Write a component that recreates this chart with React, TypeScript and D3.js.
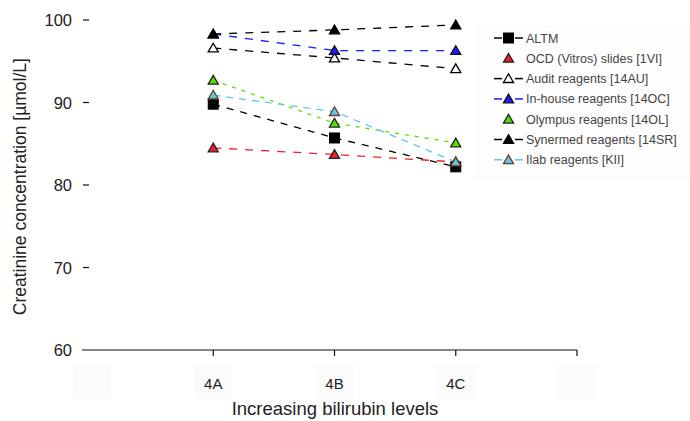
import React from "react";
import * as d3 from "d3";

// Category positions along the x axis (blank slots at both ends)
const categories = ["", "4A", "4B", "4C", ""];
const yTicks = [60, 70, 80, 90, 100];

// Creatinine results per method at each bilirubin level (µmol/L)
const altm = [89.8, 85.7, 82.2];
const ocd = [84.5, 83.7, 82.8];
const audit = [96.6, 95.4, 94.1];
const inHouse = [98.3, 96.3, 96.3];
const olympus = [92.7, 87.5, 85.1];
const synermed = [98.3, 98.8, 99.4];
const ilab = [90.9, 88.9, 82.8];

type Series = {
  name: string;
  values: number[];
  color: string;
  marker: "square" | "triangle" | "openTriangle";
  stroke: string;
  dash: string;
  legendLine: boolean;
};

const series: Series[] = [
  { name: "ALTM", values: altm, color: "#000", marker: "square", stroke: "#000", dash: "7,7", legendLine: true },
  { name: "OCD (Vitros) slides [1VI]", values: ocd, color: "#e8202a", marker: "triangle", stroke: "#222", dash: "8,8", legendLine: false },
  { name: "Audit reagents [14AU]", values: audit, color: "#fff", marker: "openTriangle", stroke: "#000", dash: "8,8", legendLine: true },
  { name: "In-house reagents [14OC]", values: inHouse, color: "#1a1aff", marker: "triangle", stroke: "#111", dash: "8,8", legendLine: true },
  { name: "Olympus reagents [14OL]", values: olympus, color: "#55e000", marker: "triangle", stroke: "#222", dash: "4,6", legendLine: false },
  { name: "Synermed reagents [14SR]", values: synermed, color: "#000", marker: "triangle", stroke: "#000", dash: "8,8", legendLine: true },
  { name: "Ilab reagents [KII]", values: ilab, color: "#5cc8f0", marker: "triangle", stroke: "#6a3a20", dash: "7,6", legendLine: true },
];

const W = 690;
const H = 421;
const font = "'Liberation Sans', Arial, sans-serif";

const x = d3.scaleLinear().domain([0, categories.length - 1]).range([92, 577]);
const y = d3.scaleLinear().domain([60, 100]).range([350, 20]);

function Marker({ kind, fill, stroke, cx, cy }: { kind: Series["marker"]; fill: string; stroke: string; cx: number; cy: number }) {
  if (kind === "square") {
    return <rect x={cx - 5} y={cy - 5} width={10} height={10} fill={fill} stroke={stroke} strokeWidth={1} />;
  }
  const tri = d3.symbol(d3.symbolTriangle, 44)() as string;
  return (
    <path
      d={tri}
      transform={`translate(${cx},${cy + 1})`}
      fill={kind === "openTriangle" ? "#fff" : fill}
      stroke={stroke}
      strokeWidth={1.3}
    />
  );
}

export default function App() {
  const line = d3
    .line<number>()
    .x((_, i) => x(i + 1))
    .y((v) => y(v));

  const legendX = 494;
  const legendY0 = 38;
  const legendStep = 20.3;

  return (
    <svg width={W} height={H} style={{ display: "block", position: "absolute", left: 0, top: 0 }} fontFamily={font}>
      <rect width={W} height={H} fill="#fff" />

      {/* faint label plates under the category axis */}
      {categories.map((_, i) => (
        <rect key={`plate${i}`} x={x(i) - 19} y={365} width={38} height={34} fill="#fbfbfb" />
      ))}

      {/* x axis */}
      <line x1={82} x2={x(categories.length - 1)} y1={y(60)} y2={y(60)} stroke="#111" strokeWidth={1.2} />
      {categories.map((_, i) =>
        i === 0 ? null : (
          <line key={`xt${i}`} x1={x(i)} x2={x(i)} y1={y(60)} y2={y(60) + 6} stroke="#111" strokeWidth={1.2} />
        )
      )}
      {categories.map((c, i) =>
        c ? (
          <text key={`xl${i}`} x={x(i)} y={389} textAnchor="middle" fontSize={15} fill="#222">
            {c}
          </text>
        ) : null
      )}
      <text x={335} y={415} textAnchor="middle" fontSize={18.5} fill="#222">
        Increasing bilirubin levels
      </text>

      {/* y axis ticks and labels */}
      {yTicks.map((t) => (
        <g key={`yt${t}`}>
          {t !== 60 && <line x1={83} x2={89} y1={y(t)} y2={y(t)} stroke="#111" strokeWidth={1.2} />}
          <text x={72} y={y(t) + 6} textAnchor="end" fontSize={16.5} fill="#222">
            {t}
          </text>
        </g>
      ))}
      <text
        transform={`translate(26,${y(79.8)}) rotate(-90)`}
        textAnchor="middle"
        fontSize={17.5}
        fill="#222"
      >
        Creatinine concentration [µmol/L]
      </text>

      {/* series lines */}
      {series.map((s) => (
        <path
          key={`l${s.name}`}
          d={line(s.values) as string}
          fill="none"
          stroke={s.marker === "openTriangle" || s.color === "#000" ? "#000" : s.color}
          strokeWidth={1.3}
          strokeDasharray={s.dash}
        />
      ))}

      {/* series markers */}
      {series.map((s) =>
        s.values.map((v, i) => (
          <Marker key={`m${s.name}${i}`} kind={s.marker} fill={s.color} stroke={s.stroke} cx={x(i + 1)} cy={y(v)} />
        ))
      )}

      {/* legend */}
      <rect x={478} y={26} width={212} height={152} fill="#fefefe" stroke="#f6f6f6" />
      {series.map((s, i) => {
        const ly = legendY0 + i * legendStep;
        const lc = s.marker === "openTriangle" || s.color === "#000" ? "#000" : s.color;
        return (
          <g key={`lg${s.name}`}>
            {s.legendLine && (
              <>
                <line x1={legendX} x2={legendX + 8} y1={ly} y2={ly} stroke={lc} strokeWidth={1.5} />
                <line x1={legendX + 21} x2={legendX + 29} y1={ly} y2={ly} stroke={lc} strokeWidth={1.5} />
              </>
            )}
            <Marker kind={s.marker} fill={s.color} stroke={s.stroke} cx={legendX + 14.5} cy={ly} />
            <text x={legendX + 32} y={ly + 4.5} fontSize={12.5} fill="#444">
              {s.name}
            </text>
          </g>
        );
      })}
    </svg>
  );
}
